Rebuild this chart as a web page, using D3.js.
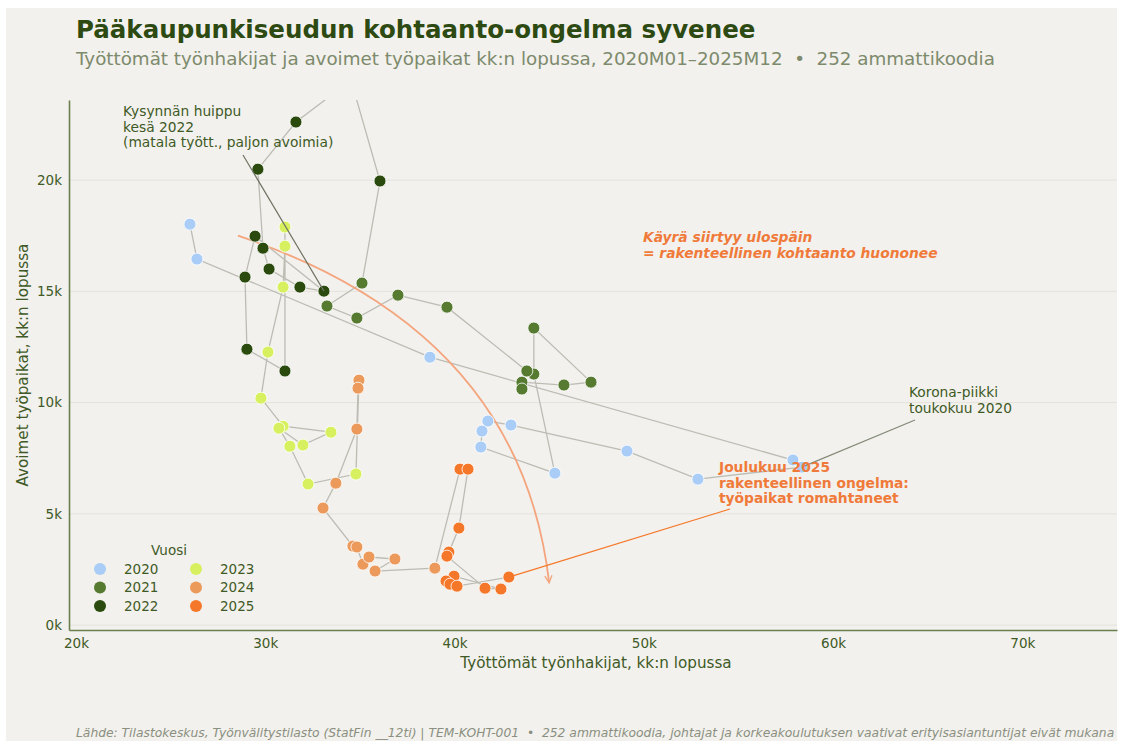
<!DOCTYPE html>
<html>
<head>
<meta charset="utf-8">
<script src="https://cdn.jsdelivr.net/npm/d3@7"></script>
<style>
  html, body { margin: 0; padding: 0; background: #ffffff; }
  svg { display: block; font-family: "DejaVu Sans", sans-serif; }
  text { white-space: pre; }
</style>
</head>
<body>
<div id="chart"></div>
<script>
// Kuukausittaiset havainnot (tuhansina), tammi..joulu per vuosi
const years = [2020, 2021, 2022, 2023, 2024, 2025];
const yearColors = ["#a9cdf6", "#557a30", "#2a4a0e", "#d6f060", "#eb9a5c", "#f5782a"];

const unemployed = {
  2020: [26.02, 26.39, 38.70, 57.88, 58.35, 52.86, 49.11, 42.98, 41.76, 41.45, 41.39, 45.30],
  2021: [44.19, 44.19, 47.21, 45.78, 43.56, 43.56, 43.82, 39.60, 37.01, 34.84, 33.26, 35.11],
  2022: [36.06, 34.53, 31.62, 29.61, 29.88, 30.20, 31.83, 33.10, 29.46, 28.93, 29.03, 31.04],
  2023: [31.04, 31.04, 30.94, 30.14, 29.77, 30.94, 33.47, 31.99, 30.72, 31.30, 32.26, 34.79],
  2024: [34.95, 34.90, 34.84, 33.73, 33.05, 34.63, 34.84, 35.16, 35.48, 36.85, 35.80, 38.96],
  2025: [40.29, 40.71, 40.23, 39.70, 39.60, 41.61, 42.45, 39.97, 39.55, 39.76, 40.13, 42.87],
};
const vacancies = {
  2020: [18.02, 16.45, 12.04, 7.42, 7.10, 6.56, 7.82, 8.99, 9.17, 8.72, 8.00, 6.83],
  2021: [11.28, 13.35, 10.92, 10.79, 10.92, 10.61, 11.42, 14.29, 14.83, 13.80, 14.34, 15.37],
  2022: [19.96, 24.49, 22.61, 20.49, 16.94, 16.00, 15.19, 15.01, 17.48, 15.64, 12.40, 11.42],
  2023: [17.89, 17.03, 15.19, 12.27, 10.20, 8.94, 8.67, 8.09, 8.85, 8.04, 6.34, 6.79],
  2024: [11.01, 10.65, 8.81, 6.38, 5.26, 3.55, 3.51, 2.74, 3.06, 2.97, 2.43, 2.56],
  2025: [7.01, 7.01, 4.36, 3.28, 3.10, 1.66, 1.62, 2.20, 1.98, 1.84, 1.75, 2.16],
};

const xTicks = [20, 30, 40, 50, 60, 70];
const yTicks = [0, 5, 10, 15, 20];

const width = 1123;
const height = 747;

const points = [];
years.forEach((yr, i) => {
  unemployed[yr].forEach((u, m) => {
    points.push({ year: yr, month: m + 1, u, v: vacancies[yr][m], color: yearColors[i] });
  });
});

const svg = d3
  .select("#chart")
  .append("svg")
  .attr("width", width)
  .attr("height", height);

// taustapaneeli
svg.append("rect")
  .attr("x", 6).attr("y", 8)
  .attr("width", 1111).attr("height", 733)
  .attr("fill", "#f2f1ed");

const plot = { left: 69, right: 1117, top: 100, bottom: 630 };

const x = d3.scaleLinear().domain([19.63, 75.0]).range([plot.left, plot.right]);
const y = d3.scaleLinear().domain([-0.22, 23.6]).range([plot.bottom, plot.top]);

svg.append("clipPath").attr("id", "clip")
  .append("rect")
  .attr("x", plot.left).attr("y", plot.top)
  .attr("width", plot.right - plot.left).attr("height", plot.bottom - plot.top);

// Otsikot
svg.append("text")
  .attr("x", 76).attr("y", 38)
  .attr("font-size", 24.5).attr("font-weight", "bold")
  .attr("fill", "#2d4a12")
  .text("Pääkaupunkiseudun kohtaanto-ongelma syvenee");

svg.append("text")
  .attr("x", 76).attr("y", 65)
  .attr("font-size", 18.3)
  .attr("fill", "#7d8a6c")
  .text("Työttömät työnhakijat ja avoimet työpaikat kk:n lopussa, 2020M01–2025M12  •  252 ammattikoodia");

// Vaakasuorat ruudukkoviivat
svg.append("g")
  .selectAll("line")
  .data(yTicks)
  .join("line")
  .attr("x1", plot.left).attr("x2", plot.right)
  .attr("y1", (d) => y(d)).attr("y2", (d) => y(d))
  .attr("stroke", "#e4e2da").attr("stroke-width", 1);

// Akselit
const xAxis = svg.append("g")
  .attr("transform", `translate(0,${plot.bottom})`)
  .call(d3.axisBottom(x).tickValues(xTicks).tickFormat((d) => d + "k").tickSize(0).tickPadding(8));
const yAxis = svg.append("g")
  .attr("transform", `translate(${plot.left},0)`)
  .call(d3.axisLeft(y).tickValues(yTicks).tickFormat((d) => d + "k").tickSize(0).tickPadding(7));

[xAxis, yAxis].forEach((g) => {
  g.select(".domain").attr("stroke", "#6b7f4f").attr("stroke-width", 1.6);
  g.selectAll("text")
    .attr("font-size", 13.5)
    .attr("font-family", "DejaVu Sans, sans-serif")
    .attr("fill", "#3f5a26");
});

svg.append("text")
  .attr("x", (plot.left + plot.right) / 2 + 3).attr("y", 668)
  .attr("text-anchor", "middle")
  .attr("font-size", 15.2).attr("fill", "#3f5a26")
  .text("Työttömät työnhakijat, kk:n lopussa");

svg.append("text")
  .attr("transform", `translate(28,${(plot.top + plot.bottom) / 2}) rotate(-90)`)
  .attr("text-anchor", "middle")
  .attr("font-size", 15.2).attr("fill", "#3f5a26")
  .text("Avoimet työpaikat, kk:n lopussa");

const g = svg.append("g").attr("clip-path", "url(#clip)");

// Aikajärjestyksessä yhdistävä viiva
g.append("path")
  .datum(points)
  .attr("fill", "none")
  .attr("stroke", "#bdbcb4")
  .attr("stroke-width", 1.3)
  .attr("d", d3.line().x((d) => x(d.u)).y((d) => y(d.v)));

// Siirtymä-nuoli
const arrowColor = "#f4a57e";
svg.append("defs").append("marker")
  .attr("id", "arrowhead")
  .attr("viewBox", "0 0 10 10")
  .attr("refX", 9).attr("refY", 5)
  .attr("markerWidth", 9).attr("markerHeight", 9)
  .attr("markerUnits", "userSpaceOnUse")
  .attr("orient", "auto")
  .append("path")
  .attr("d", "M1,1 L9,5 L1,9")
  .attr("fill", "none")
  .attr("stroke", arrowColor)
  .attr("stroke-width", 1.5);

const arcStart = [28.55, 17.5], arcCtrl = [43.45, 13.26], arcEnd = [45.0, 1.9];
g.append("path")
  .attr("d", `M${x(arcStart[0])},${y(arcStart[1])} Q${x(arcCtrl[0])},${y(arcCtrl[1])} ${x(arcEnd[0])},${y(arcEnd[1])}`)
  .attr("fill", "none")
  .attr("stroke", arrowColor)
  .attr("stroke-width", 1.8)
  .attr("marker-end", "url(#arrowhead)");

// Annotaatioviivat
svg.append("line")
  .attr("x1", 243).attr("y1", 155)
  .attr("x2", x(33.1)).attr("y2", y(15.01))
  .attr("stroke", "#6e7363").attr("stroke-width", 1.2);

svg.append("line")
  .attr("x1", 915).attr("y1", 420)
  .attr("x2", x(58.35)).attr("y2", y(7.10))
  .attr("stroke", "#848a78").attr("stroke-width", 1.2);

svg.append("line")
  .attr("x1", 730).attr("y1", 509)
  .attr("x2", x(42.87)).attr("y2", y(2.16))
  .attr("stroke", "#f5782a").attr("stroke-width", 1.3);

// Pisteet
g.selectAll("circle")
  .data(points)
  .join("circle")
  .attr("cx", (d) => x(d.u))
  .attr("cy", (d) => y(d.v))
  .attr("r", 6)
  .attr("fill", (d) => d.color)
  .attr("stroke", "#ffffff")
  .attr("stroke-width", 0.8);

// Tekstiannotaatiot
function multiline(xPos, yPos, lines, opts) {
  const t = svg.append("text")
    .attr("x", xPos).attr("y", yPos)
    .attr("font-size", opts.size || 13.8)
    .attr("font-weight", opts.weight || "normal")
    .attr("font-style", opts.style || "normal")
    .attr("fill", opts.color);
  lines.forEach((l, i) => {
    t.append("tspan").attr("x", xPos).attr("dy", i === 0 ? 0 : opts.lh || 15.5).text(l);
  });
}

multiline(123, 116, ["Kysynnän huippu", "kesä 2022", "(matala tyött., paljon avoimia)"], { color: "#3f5a26" });
multiline(909, 397, ["Korona-piikki", "toukokuu 2020"], { color: "#3f5a26" });
multiline(643, 242, ["Käyrä siirtyy ulospäin", "= rakenteellinen kohtaanto huononee"],
  { color: "#f07a3a", weight: "bold", style: "italic" });
multiline(719, 472, ["Joulukuu 2025", "rakenteellinen ongelma:", "työpaikat romahtaneet"],
  { color: "#f07a3a", weight: "bold" });

// Selite
const legend = svg.append("g");
legend.append("text")
  .attr("x", 169).attr("y", 555)
  .attr("text-anchor", "middle")
  .attr("font-size", 13.5).attr("fill", "#3f5a26")
  .text("Vuosi");
years.forEach((yr, i) => {
  const col = Math.floor(i / 3), row = i % 3;
  const lx = 100 + col * 96, ly = 569 + row * 18.5;
  legend.append("circle")
    .attr("cx", lx).attr("cy", ly).attr("r", 6)
    .attr("fill", yearColors[i]);
  legend.append("text")
    .attr("x", lx + 24).attr("y", ly + 4.5)
    .attr("font-size", 13.5).attr("fill", "#3f5a26")
    .text(yr);
});

// Lähde
svg.append("text")
  .attr("x", 76).attr("y", 737)
  .attr("font-size", 12.3).attr("font-style", "italic")
  .attr("fill", "#8a8f80")
  .text("Lähde: Tilastokeskus, Työnvälitystilasto (StatFin __12ti) | TEM-KOHT-001  •  252 ammattikoodia, johtajat ja korkeakoulutuksen vaativat erityisasiantuntijat eivät mukana");
</script>
</body>
</html>
